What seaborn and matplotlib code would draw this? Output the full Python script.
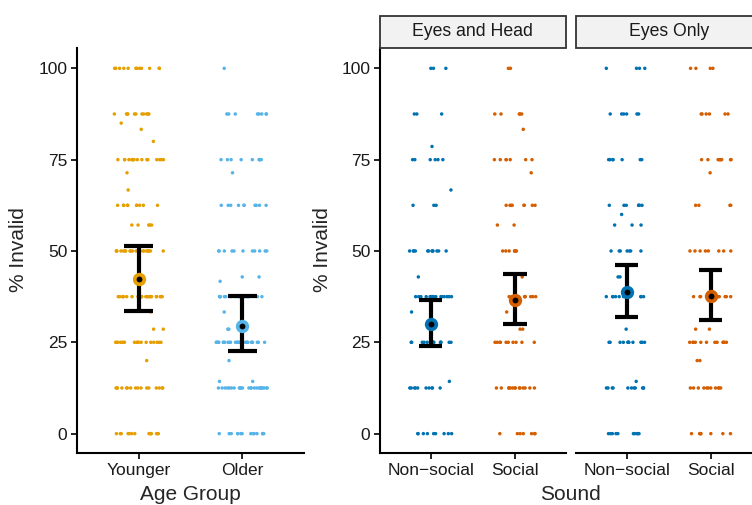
import numpy as np
import pandas as pd
import matplotlib
matplotlib.use("Agg")
import matplotlib.pyplot as plt
import seaborn as sns
from matplotlib.patches import Rectangle

sns.set_theme(style="ticks")
plt.rcParams['font.family'] = ['Liberation Sans', 'DejaVu Sans']

# ---------------- data ----------------
age_groups = ["Younger", "Older"]
sounds = ["Non-social", "Social"]
sound_ticklabels = ["Non\u2212social", "Social"]
cues = ["Eyes and Head", "Eyes Only"]

age_colors = ["#E69F00", "#56B4E9"]
sound_colors = ["#0072B2", "#D55E00"]

yticks = [0, 25, 50, 75, 100]

# observed % invalid values (level, count of participants at that level)
younger_levels = [100, 87.5, 85, 83.3, 80, 75, 71.4, 66.7, 62.5, 57.1, 50, 37.5, 33.3, 28.6, 25, 20, 12.5, 0]
younger_counts = [12, 11, 1, 1, 1, 16, 1, 1, 10, 5, 20, 22, 1, 2, 18, 1, 16, 14]

older_levels = [100, 87.5, 75, 71.4, 62.5, 50, 42.9, 41.7, 37.5, 33.3, 28.6, 25, 20, 14.3, 12.5, 0]
older_counts = [1, 8, 9, 1, 10, 11, 2, 1, 18, 1, 2, 28, 1, 2, 25, 14]

eh_nonsocial_levels = [100, 87.5, 78.6, 75, 66.7, 62.5, 50, 42.9, 37.5, 33.3, 25, 14.3, 12.5, 0]
eh_nonsocial_counts = [3, 3, 1, 6, 1, 3, 12, 1, 16, 1, 14, 1, 10, 9]

eh_social_levels = [100, 87.5, 83.3, 75, 71.4, 62.5, 57.1, 50, 42.9, 37.5, 33.3, 28.6, 25, 12.5, 0]
eh_social_counts = [2, 5, 1, 7, 1, 8, 2, 7, 1, 10, 1, 2, 10, 14, 7]

eo_nonsocial_levels = [100, 87.5, 75, 62.5, 60, 57.1, 50, 42.9, 37.5, 28.6, 25, 14.3, 12.5, 0]
eo_nonsocial_counts = [4, 6, 7, 7, 1, 3, 7, 2, 9, 1, 12, 1, 11, 10]

eo_social_levels = [100, 87.5, 75, 71.4, 62.5, 50, 37.5, 28.6, 25, 20, 12.5, 0]
eo_social_counts = [4, 6, 9, 1, 4, 8, 12, 2, 12, 2, 11, 8]

# summary: mean and interval per group
age_mean = [42.2, 29.4]
age_lo = [33.7, 22.5]
age_hi = [51.3, 37.6]

eh_mean = [29.9, 36.5]
eh_lo = [24.1, 30.1]
eh_hi = [36.5, 43.7]

eo_mean = [38.9, 37.6]
eo_lo = [31.9, 31.2]
eo_hi = [46.2, 44.7]

# ---------------- tables ----------------
def make_df(groups, level_lists, count_lists, col):
    rows = []
    for g, lv, ct in zip(groups, level_lists, count_lists):
        vals = np.repeat(lv, ct)
        rows.append(pd.DataFrame({col: g, "value": vals}))
    return pd.concat(rows, ignore_index=True)

df_age = make_df(age_groups, [younger_levels, older_levels], [younger_counts, older_counts], "group")
df_eh = make_df(sounds, [eh_nonsocial_levels, eh_social_levels], [eh_nonsocial_counts, eh_social_counts], "sound")
df_eo = make_df(sounds, [eo_nonsocial_levels, eo_social_levels], [eo_nonsocial_counts, eo_social_counts], "sound")

# ---------------- figure ----------------
W, H = 752, 505
fig = plt.figure(figsize=(W / 100, H / 100), dpi=100)

def px_axes(x0, x1, ytop, ybot):
    return fig.add_axes([x0 / W, (H - ybot) / H, (x1 - x0) / W, (ybot - ytop) / H])

ax_age = px_axes(77, 304, 47.5, 453)
ax_eh = px_axes(380, 565.5, 47.5, 453)
ax_eo = px_axes(576.3, 761, 47.5, 453)

np.random.seed(3)
YLIM = (-5.3, 105.7)

def draw_panel(ax, df, col, order, colors, means, los, his, ticklabels, show_y=True):
    sns.stripplot(data=df, x=col, y="value", hue=col, order=order, hue_order=order,
                  palette=colors, jitter=0.25, size=2.5, linewidth=0, legend=False, ax=ax, zorder=2)
    xs = np.arange(len(order))
    ax.vlines(xs, los, his, color="black", linewidth=3.0, zorder=3)
    ax.hlines(los, xs - 0.14, xs + 0.14, color="black", linewidth=3.0, zorder=3)
    ax.hlines(his, xs - 0.14, xs + 0.14, color="black", linewidth=3.0, zorder=3)
    for x, m, c in zip(xs, means, colors):
        ax.plot([x], [m], marker="o", markersize=9.6, color=c, markeredgewidth=0, zorder=4)
        ax.plot([x], [m], marker="o", markersize=4.2, color="black", markeredgewidth=0, zorder=5)
    ax.set_xlim(-0.6, 1.6)
    ax.set_ylim(*YLIM)
    ax.set_xticks(xs)
    ax.set_xticklabels(ticklabels)
    ax.set_yticks(yticks)
    ax.set_yticklabels([str(v) for v in yticks])
    ax.set_xlabel("")
    ax.set_ylabel("")
    for s in ["top", "right"]:
        ax.spines[s].set_visible(False)
    for s in ["left", "bottom"]:
        ax.spines[s].set_linewidth(1.5)
        ax.spines[s].set_color("black")
    ax.tick_params(axis="both", length=4, width=1.2, color="black", labelsize=12.5,
                   labelcolor="#1a1a1a", pad=3)
    if not show_y:
        ax.spines["left"].set_visible(False)
        ax.tick_params(axis="y", left=False, labelleft=False)
    ax.set_facecolor("white")

draw_panel(ax_age, df_age, "group", age_groups, age_colors, age_mean, age_lo, age_hi, age_groups)
draw_panel(ax_eh, df_eh, "sound", sounds, sound_colors, eh_mean, eh_lo, eh_hi, sound_ticklabels)
draw_panel(ax_eo, df_eo, "sound", sounds, sound_colors, eo_mean, eo_lo, eo_hi, sound_ticklabels, show_y=False)

# facet strips
strip_h = 32 / (453 - 47.5)
for ax, title in zip([ax_eh, ax_eo], cues):
    ax.add_patch(Rectangle((0, 1.0), 1, strip_h, transform=ax.transAxes, clip_on=False,
                           facecolor="#F2F2F2", edgecolor="#333333", linewidth=1.3, zorder=6))
    ax.text(0.5, 1.0 + strip_h / 2, title, transform=ax.transAxes, ha="center", va="center",
            fontsize=12.7, color="#1a1a1a", zorder=7)

# axis titles
fig.text(19 / W, 1 - 250 / H, "% Invalid", rotation=90, ha="center", va="center", fontsize=15)
fig.text(322 / W, 1 - 250 / H, "% Invalid", rotation=90, ha="center", va="center", fontsize=15)
fig.text(190 / W, 1 - 494 / H, "Age Group", ha="center", va="center", fontsize=15)
fig.text(570.5 / W, 1 - 494 / H, "Sound", ha="center", va="center", fontsize=15)

fig.savefig("out.png", dpi=100, facecolor="white")
